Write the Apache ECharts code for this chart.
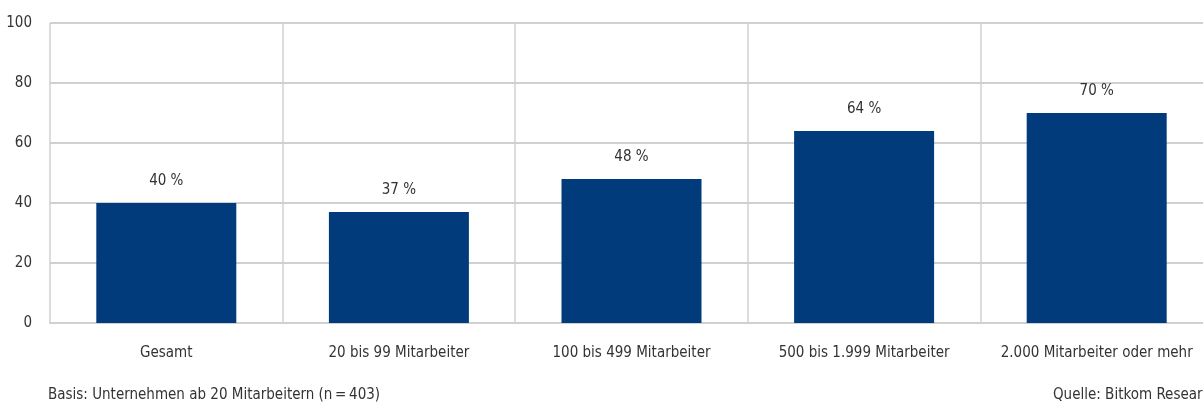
<!DOCTYPE html>
<html>
<head>
<meta charset="utf-8">
<script src="https://cdn.jsdelivr.net/npm/echarts@6/dist/echarts.min.js"></script>
<style>
  html, body { margin: 0; padding: 0; background: #fff; }
  #chart { width: 1203px; height: 403px; }
</style>
</head>
<body>
<div id="chart"></div>
<script>
// Anteil der Unternehmen nach Größe
const categories = ['Gesamt', '20 bis 99 Mitarbeiter', '100 bis 499 Mitarbeiter', '500 bis 1.999 Mitarbeiter', '2.000 Mitarbeiter oder mehr'];
const values = [40, 37, 48, 64, 70];
const yTicks = [0, 20, 40, 60, 80, 100];

const FONT = '"Liberation Sans Narrow", "DejaVu Sans Condensed", sans-serif';
const TEXT = '#333333';
const LINE = '#d0d0d0';

const chart = echarts.init(document.getElementById('chart'));

chart.setOption({
  animation: false,
  textStyle: { fontFamily: FONT },
  grid: { left: 50, top: 23, bottom: 80, right: -10, outerBoundsMode: 'none', containLabel: false },
  xAxis: {
    type: 'category',
    data: categories,
    boundaryGap: true,
    axisLine: { lineStyle: { color: LINE, width: 2 } },
    axisTick: { show: false },
    splitLine: { show: true, lineStyle: { color: LINE, width: 1.5 } },
    axisLabel: { color: TEXT, fontSize: 15, fontFamily: FONT, margin: 23, interval: 0 }
  },
  yAxis: {
    type: 'value',
    min: yTicks[0],
    max: yTicks[yTicks.length - 1],
    interval: 20,
    axisLine: { show: false },
    axisTick: { show: false },
    splitLine: { lineStyle: { color: LINE, width: 2 } },
    axisLabel: { color: TEXT, fontSize: 15, fontFamily: FONT, margin: 18 }
  },
  series: [{
    type: 'bar',
    data: values,
    barWidth: 140,
    itemStyle: { color: '#023b7c' },
    label: {
      show: true,
      position: 'top',
      distance: 14,
      formatter: '{c} %',
      color: TEXT,
      fontSize: 15,
      fontFamily: FONT
    }
  }],
  graphic: [
    {
      type: 'text',
      left: 48,
      top: 388,
      style: { text: 'Basis: Unternehmen ab 20 Mitarbeitern (n\u2009=\u2009403)', fill: TEXT, font: '15px ' + FONT }
    },
    {
      type: 'text',
      left: 1053,
      top: 388,
      style: { text: 'Quelle: Bitkom Research', fill: TEXT, font: '15px ' + FONT }
    }
  ]
});
</script>
</body>
</html>
